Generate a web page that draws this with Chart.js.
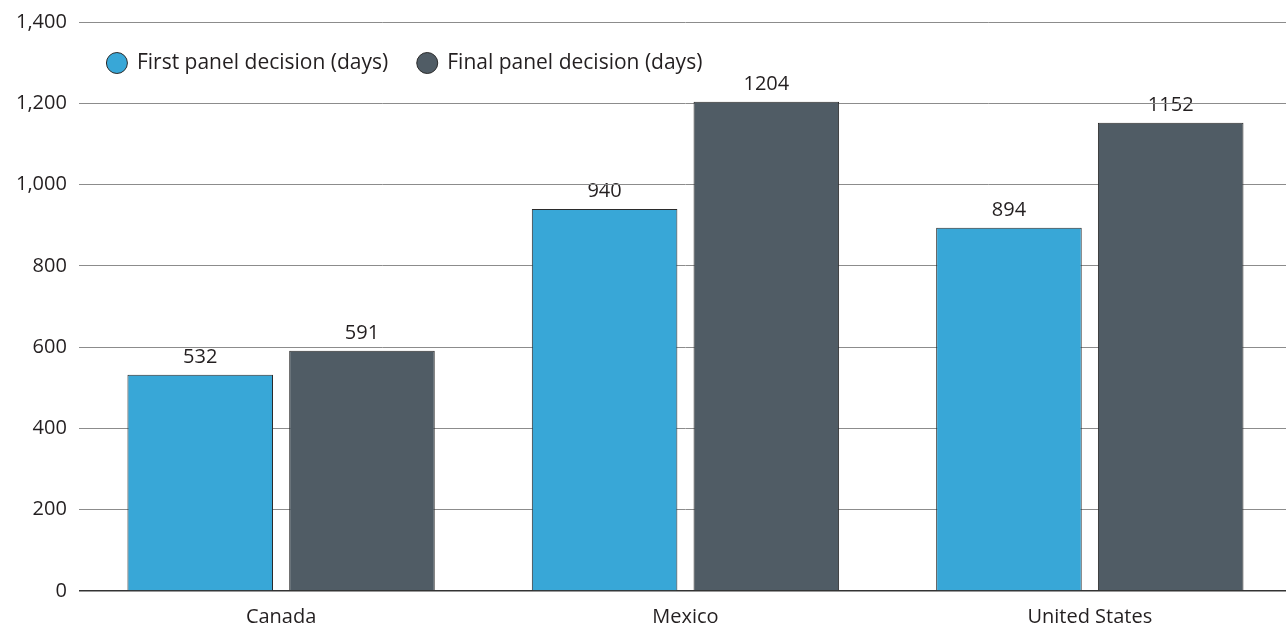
<!DOCTYPE html>
<html>
<head>
<meta charset="utf-8">
<script src="https://cdn.jsdelivr.net/npm/chart.js@4.4.1/dist/chart.umd.min.js"></script>
<style>
  html, body { margin: 0; padding: 0; background: #fff; overflow: hidden; }
  #wrap { position: relative; width: 1292px; height: 625px; }
</style>
</head>
<body>
<div id="wrap"><canvas id="chart"></canvas></div>
<script>
// Days to reach a panel decision, by country
const countries = ['Canada', 'Mexico', 'United States'];
const firstPanelDays = [532, 940, 894];
const finalPanelDays = [591, 1204, 1152];
const seriesNames = ['First panel decision (days)', 'Final panel decision (days)'];
const seriesColors = ['#38a7d7', '#505c65'];
const yTicks = [0, 200, 400, 600, 800, 1000, 1200, 1400];

const FONT = '"Open Sans", "Noto Sans", sans-serif';
const TEXT = '#231f20';
const EDGE = '#2b2b2b';

// Value labels painted before the grid so the gridlines run across them
const valueLabels = {
  id: 'valueLabels',
  beforeDraw(chart) {
    const ctx = chart.ctx;
    ctx.save();
    ctx.font = '20px ' + FONT;
    ctx.fillStyle = TEXT;
    ctx.textAlign = 'center';
    ctx.textBaseline = 'alphabetic';
    chart.data.datasets.forEach((ds, i) => {
      chart.getDatasetMeta(i).data.forEach((bar, j) => {
        ctx.fillText(String(ds.data[j]), bar.x, bar.y - 12);
      });
    });
    ctx.restore();
  }
};

// Legend row with round swatches, inside the top of the plot
const inlineLegend = {
  id: 'inlineLegend',
  afterDraw(chart) {
    const ctx = chart.ctx;
    const area = chart.chartArea;
    const cy = area.top + 41;
    let x = area.left + 27;
    ctx.save();
    ctx.font = '21px ' + FONT;
    ctx.textBaseline = 'middle';
    ctx.textAlign = 'left';
    chart.data.datasets.forEach((ds) => {
      ctx.beginPath();
      ctx.arc(x + 11, cy, 10.5, 0, Math.PI * 2);
      ctx.fillStyle = ds.backgroundColor;
      ctx.fill();
      ctx.lineWidth = 1;
      ctx.strokeStyle = EDGE;
      ctx.stroke();
      ctx.fillStyle = TEXT;
      ctx.fillText(ds.label, x + 31, cy);
      x += 31 + ctx.measureText(ds.label).width + 28;
    });
    ctx.restore();
  }
};

new Chart(document.getElementById('chart'), {
  type: 'bar',
  data: {
    labels: countries,
    datasets: [
      {
        label: seriesNames[0],
        data: firstPanelDays,
        backgroundColor: seriesColors[0],
        borderColor: EDGE,
        borderWidth: 1
      },
      {
        label: seriesNames[1],
        data: finalPanelDays,
        backgroundColor: seriesColors[1],
        borderColor: EDGE,
        borderWidth: 1
      }
    ]
  },
  options: {
    responsive: true,
    maintainAspectRatio: false,
    animation: false,
    layout: { padding: { top: 0, right: 0, bottom: -18, left: 4 } },
    datasets: { bar: { categoryPercentage: 0.8, barPercentage: 0.9 } },
    scales: {
      x: {
        grid: { display: false, drawTicks: false },
        border: { display: false },
        ticks: { color: TEXT, font: { family: FONT, size: 20 }, padding: 14 }
      },
      y: {
        min: 0,
        max: 1400,
        afterBuildTicks(axis) { axis.ticks = yTicks.map(v => ({ value: v })); },
        grid: {
          drawTicks: false,
          color: c => (c.tick && c.tick.value === 0 ? '#333' : '#8c8c8c'),
          lineWidth: c => (c.tick && c.tick.value === 0 ? 1.5 : 1)
        },
        border: { display: false },
        ticks: {
          color: TEXT,
          font: { family: FONT, size: 20, lineHeight: 1.0 },
          padding: 12,
          callback: v => v.toLocaleString('en-US')
        }
      }
    },
    plugins: {
      tooltip: { enabled: false },
      legend: { display: false }
    }
  },
  plugins: [valueLabels, inlineLegend]
});
</script>
</body>
</html>
